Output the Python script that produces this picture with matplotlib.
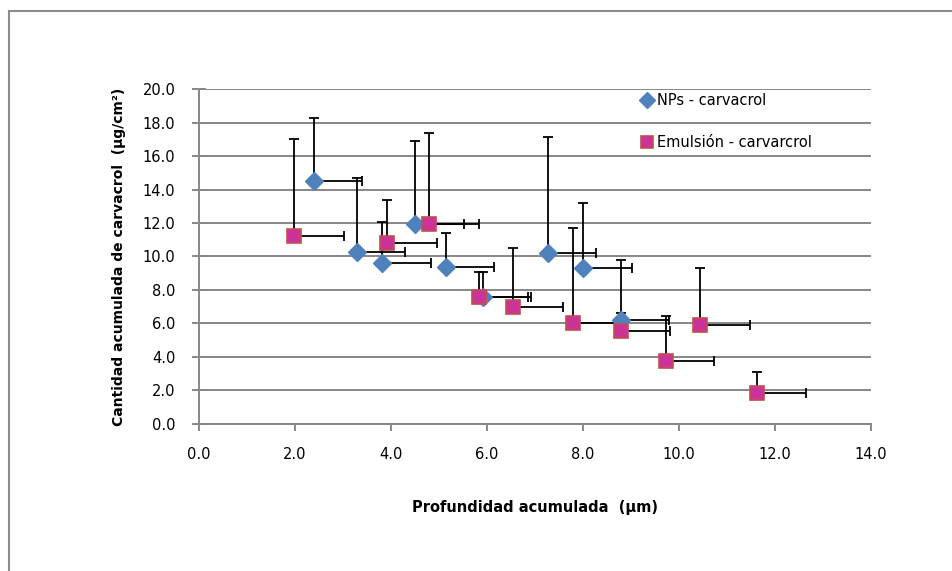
import matplotlib
matplotlib.use("Agg")
import matplotlib.pyplot as plt
from matplotlib.lines import Line2D

# NPs - carvacrol
nps_x = [2.39, 3.29, 3.81, 4.51, 5.15, 5.92, 7.27, 8.01, 8.80]
nps_y = [14.52, 10.27, 9.59, 11.94, 9.35, 7.56, 10.23, 9.30, 6.20]
nps_yerr = [3.80, 4.40, 2.50, 5.00, 2.07, 1.52, 6.90, 3.88, 3.60]
nps_xerr = [1.00, 1.00, 1.03, 1.02, 1.00, 1.00, 1.01, 1.02, 1.00]

# Emulsion - carvarcrol
emu_x = [1.99, 3.91, 4.80, 5.83, 6.55, 7.80, 8.79, 9.73, 10.45, 11.62]
emu_y = [11.23, 10.83, 11.94, 7.56, 6.96, 5.99, 5.51, 3.75, 5.90, 1.84]
emu_yerr = [5.82, 2.57, 5.43, 1.50, 3.55, 5.74, 1.10, 2.70, 3.40, 1.26]
emu_xerr = [1.03, 1.04, 1.03, 1.02, 1.04, 1.00, 1.03, 1.00, 1.03, 1.03]

x_ticks = [0, 2, 4, 6, 8, 10, 12, 14]
y_ticks = [0, 2, 4, 6, 8, 10, 12, 14, 16, 18, 20]

plt.rcParams['font.family'] = ['DejaVu Sans']

fig = plt.figure(figsize=(9.53, 5.71), dpi=100)
ax = fig.add_axes([0.2088, 0.2583, 0.7050, 0.5850])

grey = '#878787'

# one-sided error bars (plus direction only), like Excel
def draw_err(x, y, xe, ye):
    zeros = [0] * len(x)
    ax.errorbar(x, y, xerr=[zeros, xe], yerr=[zeros, ye], fmt='none',
                ecolor='black', elinewidth=1.3, capsize=3.5, capthick=1.3,
                zorder=3)

draw_err(nps_x, nps_y, nps_xerr, nps_yerr)
draw_err(emu_x, emu_y, emu_xerr, emu_yerr)

ax.plot(nps_x, nps_y, linestyle='none', marker='D', markersize=9,
        color='#4F81BD', markeredgecolor='#4F81BD', zorder=4,
        label='NPs - carvacrol')
ax.plot(emu_x, emu_y, linestyle='none', marker='s', markersize=9.8,
        color='#CC3399', markeredgecolor='#C0504D', markeredgewidth=1.2,
        zorder=5, label='Emulsión - carvarcrol')

ax.set_xlim(0, 14)
ax.set_ylim(0, 20)
ax.set_xticks(x_ticks)
ax.set_yticks(y_ticks)
ax.set_xticklabels([f'{v:.1f}' for v in x_ticks], fontsize=10.5)
ax.set_yticklabels([f'{v:.1f}' for v in y_ticks], fontsize=10.5)

ax.yaxis.grid(True, color=grey, linewidth=1.4)
ax.set_axisbelow(True)
for s in ['top', 'right']:
    ax.spines[s].set_visible(False)
for s in ['left', 'bottom']:
    ax.spines[s].set_color(grey)
    ax.spines[s].set_linewidth(1.4)
ax.tick_params(axis='y', direction='inout', length=10, width=1.4, color=grey, pad=12)
ax.tick_params(axis='x', direction='out', length=5, width=1.4, color=grey, pad=12)

ax.set_xlabel('Profundidad acumulada  (µm)', fontsize=10.5, fontweight='bold',
              labelpad=27)
ax.set_ylabel('Cantidad acumulada de carvacrol  (µg/cm²)', fontsize=10,
              fontweight='bold', labelpad=12)

ax.legend(loc='upper left', bbox_to_anchor=(0.651, 1.008), frameon=False,
          fontsize=10.5, handlelength=0.7, handletextpad=0.3,
          labelspacing=1.85, borderaxespad=0, markerscale=0.85)

# outer chart border
fig.add_artist(Line2D([9 / 953, 1], [1 - 11 / 571, 1 - 11 / 571],
                      color='#8c8c8c', linewidth=1.5))
fig.add_artist(Line2D([9 / 953, 9 / 953], [0, 1 - 11 / 571],
                      color='#8c8c8c', linewidth=1.5))

fig.savefig('out.png', dpi=100)
